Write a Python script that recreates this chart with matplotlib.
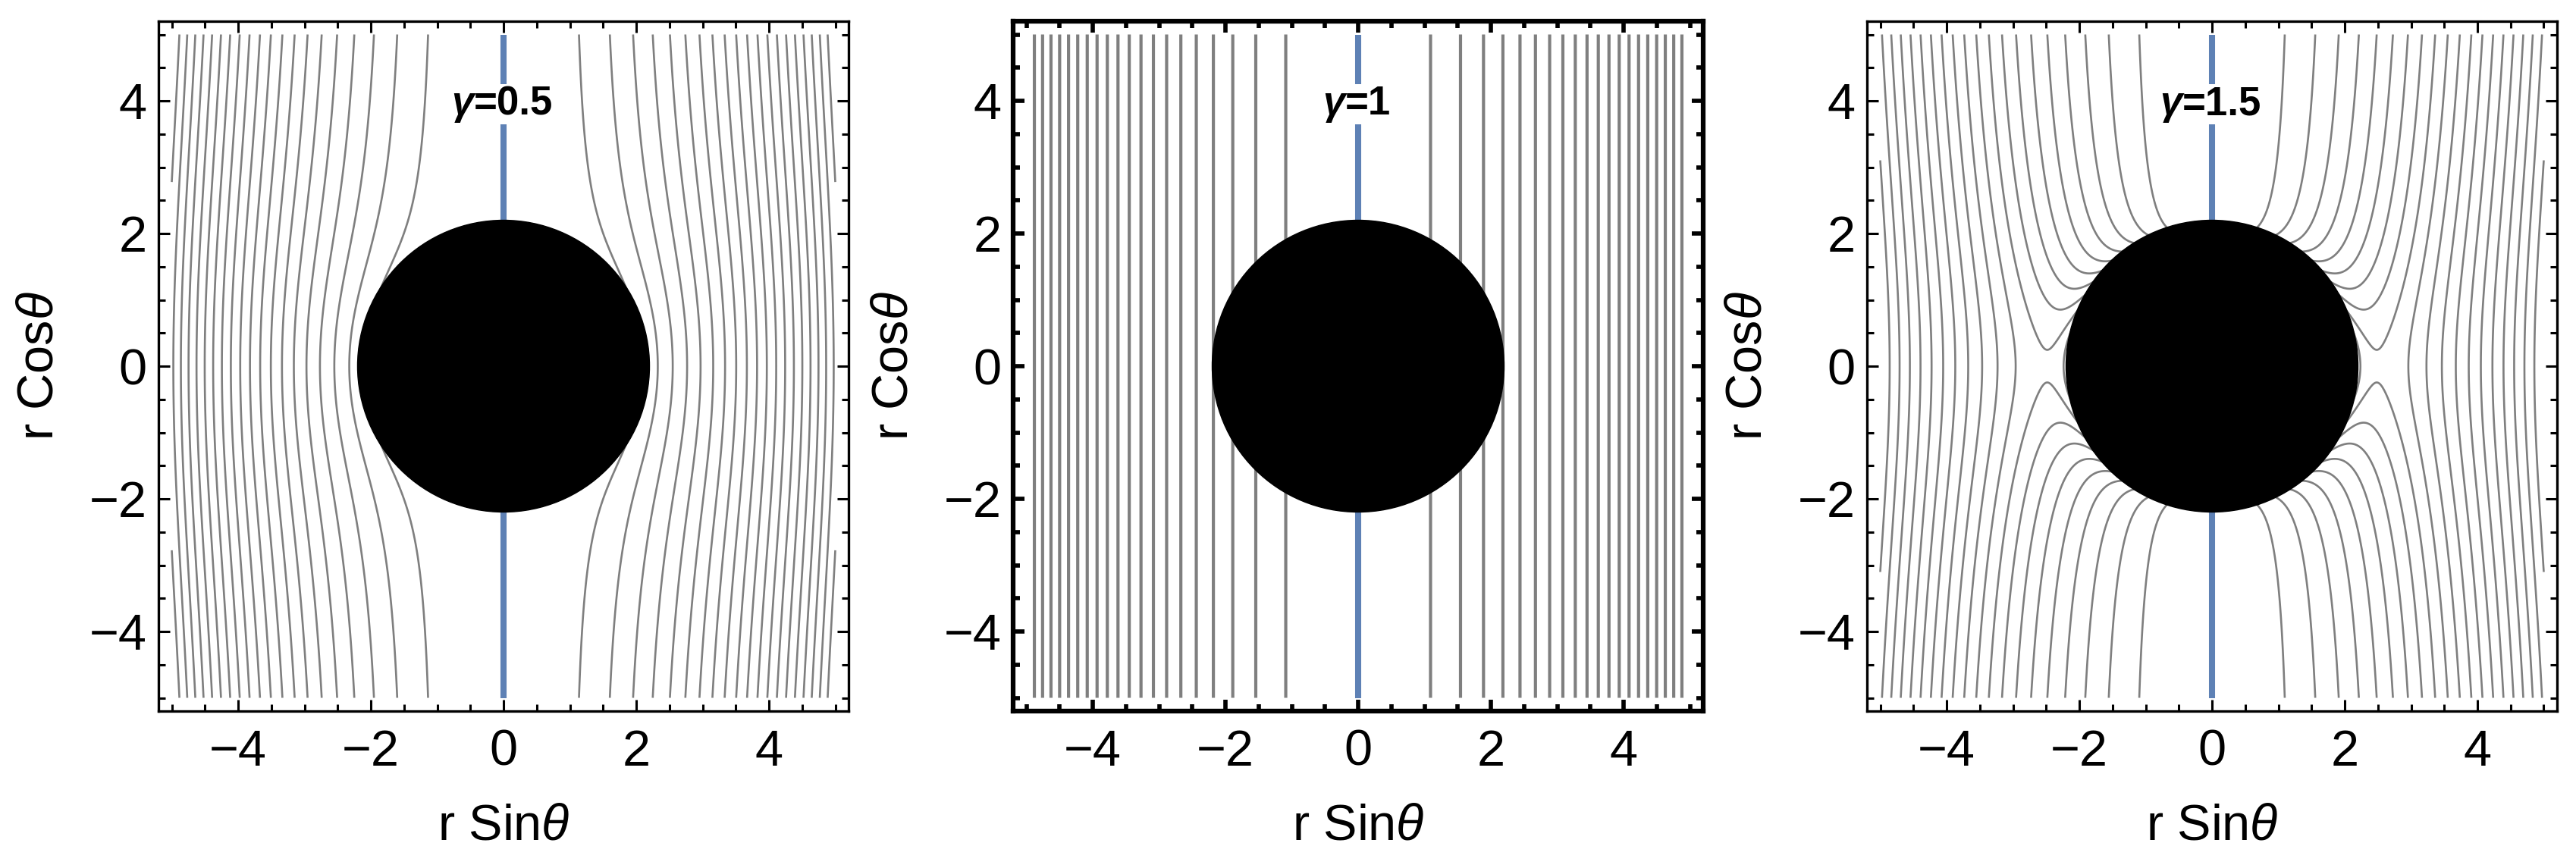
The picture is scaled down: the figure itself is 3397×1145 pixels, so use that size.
import numpy as np
import matplotlib
matplotlib.use("Agg")
from matplotlib import pyplot as plt
from matplotlib.patches import Circle, Rectangle
from matplotlib.ticker import MultipleLocator

plt.rcParams['font.family'] = ['Liberation Sans', 'DejaVu Sans']
plt.rcParams['mathtext.fontset'] = 'custom'
plt.rcParams['mathtext.rm'] = 'Liberation Sans'
plt.rcParams['mathtext.it'] = 'Liberation Sans:italic'

# panel parameters
gammas = [0.5, 1, 1.5]
value_text = ['=0.5', '=1', '=1.5']

# contour levels of the flux function (20 per panel)
levels_05 = [1.01, 2.02, 3.02, 4.03, 5.04, 6.05, 7.06, 8.06, 9.07, 10.08,
             11.09, 12.10, 13.10, 14.11, 15.12, 16.13, 17.14, 18.14, 19.15, 20.16]
levels_10 = [1.19, 2.38, 3.57, 4.76, 5.95, 7.14, 8.33, 9.52, 10.71, 11.90,
             13.10, 14.29, 15.48, 16.67, 17.86, 19.05, 20.24, 21.43, 22.62, 23.81]
levels_15 = [1.54, 3.08, 4.61, 6.15, 7.69, 9.23, 10.77, 12.31, 13.84, 15.38,
             16.92, 18.46, 20.00, 21.54, 23.07, 24.61, 26.15, 27.69, 29.23, 30.77]
all_levels = [levels_05, levels_10, levels_15]

mass = 1.0          # horizon at r = 2M
disk_radius = 2.2   # black disk drawn over the hole
plot_range = 5.0    # field is plotted on [-5,5]^2
axis_x = 0.0        # symmetry axis drawn in blue
label_y = 3.95

# x = r sin(theta), y = r cos(theta)
x = np.linspace(-plot_range, plot_range, 1201)
X, Y = np.meshgrid(x, x)
R = np.sqrt(X**2 + Y**2)

fig = plt.figure(figsize=(33.97, 11.45), dpi=100)
W, H = 3397, 1145
lefts = [209, 1336, 2462]
box = 910
lab_fs = 38

for i, g in enumerate(gammas):
    ax = fig.add_axes([lefts[i]/W, (H-938)/H, box/W, box/H])
    thick = (g == 1)
    ax.set_xlim(-5.2, 5.2)
    ax.set_ylim(-5.2, 5.2)

    with np.errstate(invalid='ignore', divide='ignore'):
        psi = X**2 * (1 - 2*mass/R)**(1 - g)
    psi[R < 2.05*mass] = np.nan

    ax.contour(X, Y, psi, levels=all_levels[i], colors='#7f7f7f',
               linewidths=3.0 if thick else 1.9, zorder=2)
    ax.plot([axis_x, axis_x], [-plot_range, plot_range], color='#5E81B5', lw=5.8,
            solid_capstyle='butt', zorder=3)
    ax.add_patch(Circle((0, 0), disk_radius, color='black', zorder=4))

    # label: italic bold gamma followed by bold value, on a white box
    gw = 0.3
    t = ax.text(gw / 2, label_y, value_text[i], fontsize=lab_fs, fontweight='bold',
                ha='center', va='center', zorder=6)
    fig.canvas.draw()
    bb = t.get_window_extent().transformed(ax.transData.inverted())
    tg = ax.text(bb.x0, label_y, 'γ', fontsize=lab_fs, fontweight='bold',
                 fontstyle='italic', ha='right', va='center', zorder=6)
    fig.canvas.draw()
    bg = tg.get_window_extent().transformed(ax.transData.inverted())
    x0, x1 = bg.x0 - 0.04, bb.x1 + 0.04
    y0, y1 = min(bb.y0, bg.y0) - 0.02, max(bb.y1, bg.y1) + 0.02
    ax.add_patch(Rectangle((x0, y0), x1 - x0, y1 - y0, facecolor='white',
                           edgecolor='none', zorder=5))

    ax.xaxis.set_major_locator(MultipleLocator(2))
    ax.yaxis.set_major_locator(MultipleLocator(2))
    ax.xaxis.set_minor_locator(MultipleLocator(0.5))
    ax.yaxis.set_minor_locator(MultipleLocator(0.5))
    sw = 4.5 if thick else 2.4
    for s in ax.spines.values():
        s.set_linewidth(sw)
    ax.tick_params(which='both', direction='in', top=True, right=True,
                   width=sw*0.9 if thick else 2.2, labelsize=48)
    ax.tick_params(which='major', length=11)
    ax.tick_params(which='minor', length=6.5)
    ax.tick_params(axis='x', pad=17)
    ax.tick_params(axis='y', pad=11)

    ax.set_xlabel(r'r Sin$\theta$', fontsize=48)
    ax.set_ylabel(r'r Cos$\theta$', fontsize=48)
    ax.xaxis.label.set_va('center')
    ax.yaxis.label.set_va('center')
    ax.xaxis.set_label_coords(0.5, -0.168)
    ax.yaxis.set_label_coords(-0.172, 0.5)

fig.savefig('out.png', dpi=100)
